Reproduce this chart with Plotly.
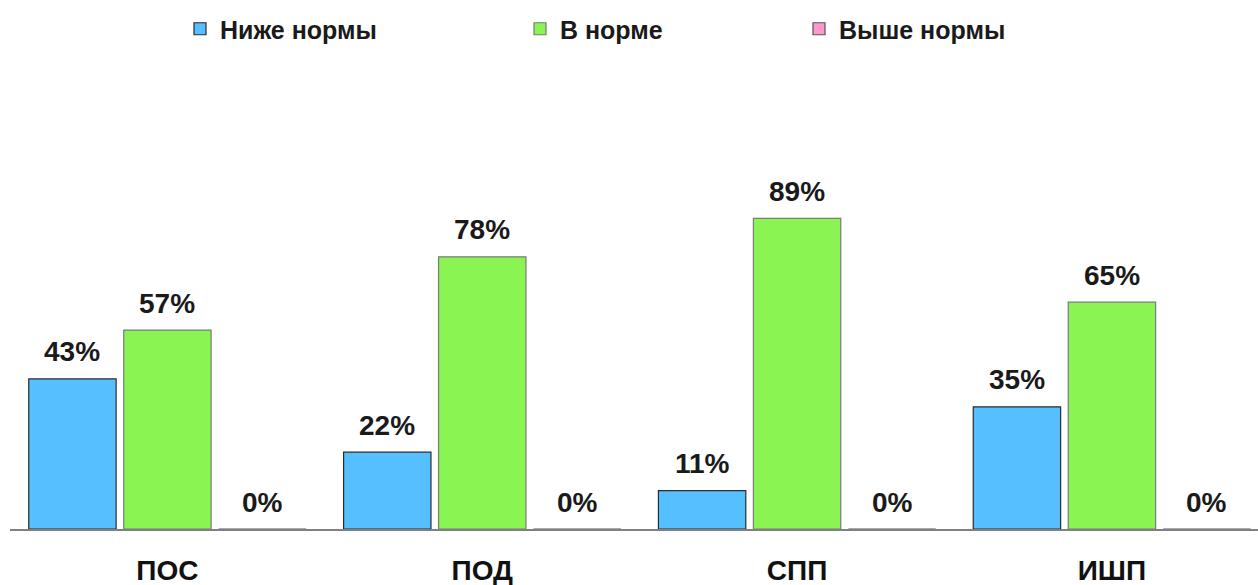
import plotly.graph_objects as go

categories = ["ПОС", "ПОД", "СПП", "ИШП"]
series_names = ["Ниже нормы", "В норме", "Выше нормы"]
below = [43, 22, 11, 35]
normal = [57, 78, 89, 65]
above = [0, 0, 0, 0]
series_values = [below, normal, above]

colors = ["#55BFFF", "#8AF552", "#FF99CC"]
outlines = ["#2b2b2b", "#7a7a7a", "#555555"]

W, H = 1258, 585
ML, MR, MT, MB = 10, 0, 180, 56
BARGAP = 0.095
BARGROUPGAP = 0.08
X_RANGE = [-0.5, 3.464]
FONT = "Liberation Sans, Arial, sans-serif"

fig = go.Figure()
legend_keys = ["legend", "legend2", "legend3"]
for i, (name, vals) in enumerate(zip(series_names, series_values)):
    fig.add_trace(go.Bar(
        x=categories, y=vals, name=name,
        marker=dict(color=colors[i], line=dict(color=outlines[i], width=1.2)),
        legend=legend_keys[i],
        hoverinfo="x+y+name",
    ))

# pixel geometry for label placement
plot_w = W - ML - MR
pitch = plot_w / (X_RANGE[1] - X_RANGE[0])
slot = pitch * (1 - BARGAP) / len(series_names)

for i, vals in enumerate(series_values):
    for cat, v in zip(categories, vals):
        fig.add_annotation(
            x=cat, y=v, xref="x", yref="y",
            text=f"{v}%", showarrow=False,
            xshift=(i - 1) * slot, yshift=27,
            font=dict(family=FONT, size=28, color="#1a1a1a", weight="bold"),
        )

legend_x_px = [180, 520, 799]
legend_common = dict(
    orientation="h", xref="container", yref="container",
    yanchor="middle", y=1 - 29 / H,
    font=dict(family=FONT, size=25, color="#1a1a1a", weight="bold"),
    bgcolor="rgba(0,0,0,0)", itemwidth=30,
)

fig.update_layout(
    template="none",
    width=W, height=H,
    margin=dict(l=ML, r=MR, t=MT, b=MB, pad=0, autoexpand=False),
    barmode="group", bargap=BARGAP, bargroupgap=BARGROUPGAP,
    plot_bgcolor="white", paper_bgcolor="white",
    legend=dict(x=legend_x_px[0] / W, **legend_common),
    legend2=dict(x=legend_x_px[1] / W, **legend_common),
    legend3=dict(x=legend_x_px[2] / W, **legend_common),
    xaxis=dict(
        type="category", range=X_RANGE, automargin=False,
        showline=True, linecolor="#808080", linewidth=2,
        ticks="", showgrid=False, zeroline=False,
        tickfont=dict(family=FONT, size=28, color="#111111", weight="bold"),
        ticklabelstandoff=15,
    ),
    yaxis=dict(range=[0, 100], visible=False, showgrid=False, zeroline=False,
               automargin=False),
    showlegend=True,
)

fig.write_html(
    "out.html",
    config={"displayModeBar": False},
    post_script="document.body.style.margin='0';document.body.style.overflow='hidden';",
)
